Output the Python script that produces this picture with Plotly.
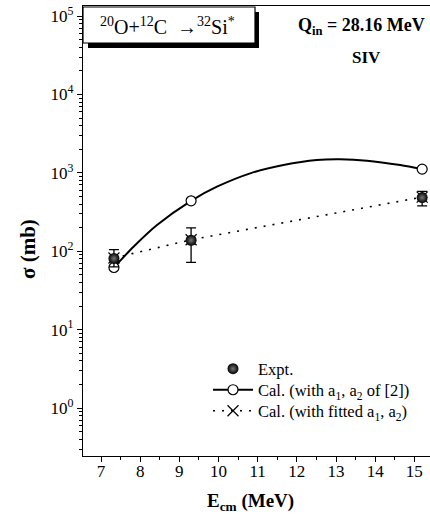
import plotly.graph_objects as go

# ---- data ----
expt_x = [7.33, 9.30, 15.20]
expt_y = [81, 138, 483]
expt_err_plus = [24, 60, 98]
expt_err_minus = [18, 66, 105]

cal2_x = [7.33, 9.30, 15.20]
cal2_y = [62, 440, 1115]

cal2_curve_x = [7.33, 7.83, 8.43, 9.30, 9.96, 10.81, 11.66, 12.51, 13.10, 13.79, 14.64, 15.20]
cal2_curve_y = [62, 114, 216, 440, 665, 985, 1256, 1455, 1486, 1430, 1257, 1115]

fit_x = [7.33, 9.30, 15.20]
fit_y = [82, 140, 490]

y_tick_vals = [1, 10, 100, 1000, 10000, 100000]
y_tick_text = ["10<sup>0</sup>", "10<sup>1</sup>", "10<sup>2</sup>", "10<sup>3</sup>", "10<sup>4</sup>", "10<sup>5</sup>"]
x_tick_vals = [7, 8, 9, 10, 11, 12, 13, 14, 15]

FONT = "Liberation Serif"

fig = go.Figure()

fig.add_trace(go.Scatter(x=cal2_curve_x, y=cal2_curve_y, mode="lines",
                         line=dict(color="black", width=2, shape="spline", smoothing=0.8),
                         showlegend=False, hoverinfo="skip"))
fig.add_trace(go.Scatter(x=fit_x, y=fit_y, mode="lines+markers",
                         line=dict(color="black", width=1.6, dash="2px,7px"),
                         marker=dict(symbol="x-thin", size=11, line=dict(color="black", width=1.2)),
                         showlegend=False))
fig.add_trace(go.Scatter(x=cal2_x, y=cal2_y, mode="markers",
                         marker=dict(symbol="circle", size=10, color="white",
                                     line=dict(color="black", width=1.2)),
                         showlegend=False))
fig.add_trace(go.Scatter(x=expt_x, y=expt_y, mode="markers",
                         marker=dict(symbol="circle", size=11, color="black",
                                     gradient=dict(type="radial", color="#777777")),
                         error_y=dict(type="data", symmetric=False, array=expt_err_plus,
                                      arrayminus=expt_err_minus, color="black",
                                      thickness=1.3, width=5),
                         showlegend=False))

fig.add_trace(go.Scatter(x=[None], y=[None], mode="markers", name="Expt.", legend="legend",
                         marker=dict(symbol="circle", size=11, color="black",
                                     gradient=dict(type="radial", color="#777777"))))
fig.add_trace(go.Scatter(x=[None], y=[None], mode="lines+markers", legend="legend2",
                         name="Cal. (with a<sub>1</sub>, a<sub>2</sub> of [2])",
                         line=dict(color="black", width=2),
                         marker=dict(symbol="circle", size=10, color="white",
                                     line=dict(color="black", width=1.2))))
fig.add_trace(go.Scatter(x=[None], y=[None], mode="lines+markers", legend="legend3",
                         name="Cal. (with fitted a<sub>1</sub>, a<sub>2</sub>)",
                         line=dict(color="black", width=1.6, dash="2px,7px"),
                         marker=dict(symbol="x-thin", size=11, line=dict(color="black", width=1.2))))

def px_x(p):
    return (p - 83) / 347.0

def px_y(p):
    return (456 - p) / 450.0

shapes = [
    dict(type="rect", xref="paper", yref="paper", x0=px_x(88), x1=px_x(259), y0=px_y(48), y1=px_y(12),
         fillcolor="black", line=dict(width=0), layer="above"),
    dict(type="rect", xref="paper", yref="paper", x0=px_x(83), x1=px_x(255), y0=px_y(43), y1=px_y(7),
         fillcolor="white", line=dict(color="black", width=1.2), layer="above"),
]

annotations = [
    dict(text="<sup>20</sup>O+<sup>12</sup>C  →<sup>32</sup>Si<sup>*</sup>", xref="paper", yref="paper",
         x=px_x(167), y=px_y(26), showarrow=False, font=dict(family=FONT, size=20, color="black"),
         xanchor="center", yanchor="middle"),
    dict(text="<b>Q<sub>in</sub> = 28.16 MeV</b>", xref="paper", yref="paper",
         x=px_x(361), y=px_y(27), showarrow=False, font=dict(family=FONT, size=18, color="black"),
         xanchor="center", yanchor="middle"),
    dict(text="<b>SIV</b>", xref="paper", yref="paper",
         x=px_x(366), y=px_y(58), showarrow=False, font=dict(family=FONT, size=17, color="black"),
         xanchor="center", yanchor="middle"),
    dict(text="<b>σ (mb)</b>", xref="paper", yref="paper", textangle=-90,
         x=px_x(28), y=px_y(249), showarrow=False, font=dict(family=FONT, size=21, color="black"),
         xanchor="center", yanchor="middle"),
    dict(text="<b>E<sub>cm</sub> (MeV)</b>", xref="paper", yref="paper",
         x=px_x(250), y=px_y(502), showarrow=False, font=dict(family=FONT, size=19, color="black"),
         xanchor="center", yanchor="middle"),
]

minor_y = [m * 10 ** e for e in range(-1, 6) for m in range(2, 10)]

def leg(ypx):
    return dict(x=px_x(208), y=px_y(ypx), xanchor="left", yanchor="middle",
                bgcolor="rgba(0,0,0,0)", font=dict(family=FONT, size=16.5, color="black"),
                itemwidth=40, borderwidth=0)

fig.update_layout(
    width=430, height=531,
    margin=dict(l=83, r=0, t=6, b=75, autoexpand=False),
    paper_bgcolor="white", plot_bgcolor="white",
    font=dict(family=FONT, size=16, color="black"),
    shapes=shapes, annotations=annotations,
    legend=leg(369), legend2=leg(390), legend3=leg(411),
    xaxis=dict(range=[6.54, 15.40], tickmode="array", tickvals=x_tick_vals, automargin=False,
               ticks="outside", ticklen=5, tickwidth=1.2, tickcolor="black",
               ticklabelstandoff=-6,
               showline=True, linecolor="black", linewidth=1.2, mirror=True,
               showgrid=False, zeroline=False,
               tickfont=dict(family=FONT, size=17, color="black"),
               minor=dict(tickmode="array", tickvals=[6.5 + i for i in range(10)], ticks="outside",
                          ticklen=3, tickwidth=1.2, tickcolor="black", showgrid=False)),
    yaxis=dict(type="log", range=[-0.612, 5.128], tickmode="array", tickvals=y_tick_vals,
               ticktext=y_tick_text, automargin=False, ticks="outside", ticklen=5, tickwidth=1.2,
               tickcolor="black", showline=True, linecolor="black", linewidth=1.2,
               showgrid=False, zeroline=False,
               tickfont=dict(family=FONT, size=17, color="black"),
               minor=dict(tickmode="array", tickvals=minor_y, ticks="outside",
                          ticklen=3, tickwidth=1.0, tickcolor="black", showgrid=False)),
)

fig.write_html("out.html", config={"displayModeBar": False},
               post_script="document.body.style.margin='0';")
